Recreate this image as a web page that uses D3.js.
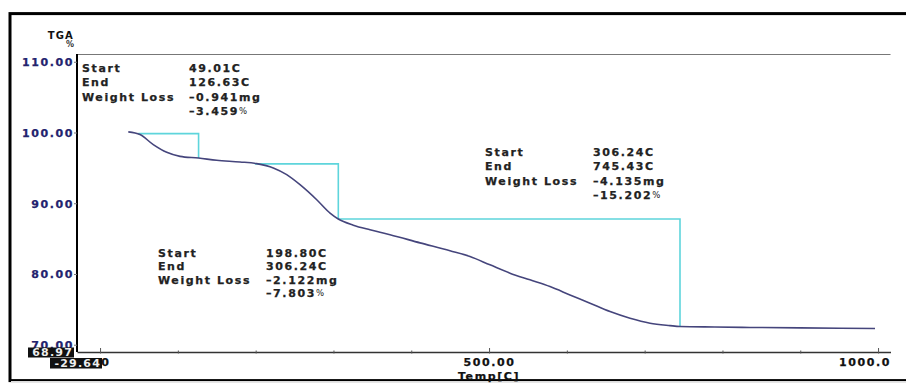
<!DOCTYPE html>
<html>
<head>
<meta charset="utf-8">
<script src="https://cdn.jsdelivr.net/npm/d3@7"></script>
<style>
  html, body { margin: 0; padding: 0; background: #fff; }
  svg { display: block; }
  text { font-family: "DejaVu Sans", sans-serif; font-weight: bold; }
</style>
</head>
<body>
<svg id="chart" width="906" height="383"></svg>
<script>
// TGA weight-loss curve (temperature in C, weight in %)
const temps = [36.3, 51.3, 68.4, 85.7, 102.8, 126.6, 149.9, 179.9, 201.3, 222.7, 239.9, 257.0,
  278.5, 295.6, 306.2, 325.5, 347.0, 359.8, 372.7, 411.2, 449.8, 475.5, 501.2, 526.9, 552.6,
  578.3, 604.0, 629.8, 655.5, 681.2, 706.9, 732.6, 745.4, 790.0, 835.4, 900.0, 996.1];
const weights = [100.09, 99.71, 98.29, 97.20, 96.63, 96.39, 96.07, 95.84, 95.60, 94.99, 94.04, 92.62,
  90.49, 88.60, 87.77, 86.90, 86.25, 85.90, 85.55, 84.40, 83.28, 82.47, 81.29, 80.12, 79.17,
  78.22, 77.04, 75.87, 74.68, 73.74, 73.04, 72.70, 72.57, 72.50, 72.44, 72.38, 72.30];

// Weight-loss steps
const stepStart = [49.01, 198.80, 306.24];
const stepEnd = [126.63, 306.24, 745.43];
const stepLevel = [99.85, 95.57, 87.77];
const stepLossMg = [0.941, 2.122, 4.135];
const stepLossPct = [3.459, 7.803, 15.202];

// Axis ranges and ticks
const xMin = -29.64, xMax = 1016;
const yMin = 68.97, yMax = 111.1;
const xTicks = [0, 100, 200, 300, 400, 500, 600, 700, 800, 900, 1000];
const xTickLabels = ["0.00", "", "", "", "", "500.00", "", "", "", "", "1000.0"];
const yTicks = [70, 80, 90, 100, 110];
const yTickLabels = ["70.00", "80.00", "90.00", "100.00", "110.00"];

const svg = d3.select("#chart");
const L = 77, R = 890.5, T = 54, B = 352;
const x = d3.scaleLinear().domain([xMin, xMax]).range([L, R]);
const y = d3.scaleLinear().domain([yMin, yMax]).range([B, T]);

// outer frame
svg.append("rect").attr("x", 10).attr("y", 13.6).attr("width", 1000).attr("height", 367)
  .attr("fill", "none").attr("stroke", "#000").attr("stroke-width", 3);
svg.append("line").attr("x1", 11).attr("x2", 906).attr("y1", 381.5).attr("y2", 381.5)
  .attr("stroke", "#ddd").attr("stroke-width", 1);

// top boundary of plot
svg.append("line").attr("x1", L).attr("x2", R).attr("y1", T + 0.5).attr("y2", T + 0.5)
  .attr("stroke", "#777").attr("stroke-width", 1.2);

// x axis
const xAxis = d3.axisBottom(x).tickValues(xTicks).tickSize(0).tickFormat("");
const gx = svg.append("g").attr("transform", `translate(0,${B})`).call(xAxis);
gx.select(".domain").attr("stroke", "#333").attr("stroke-width", 1.5);
gx.selectAll(".tick").append("line")
  .attr("y1", (d, i) => xTickLabels[i] ? -4 : -1.5)
  .attr("y2", 1.5)
  .attr("stroke", "#555").attr("stroke-width", 1);
gx.selectAll(".tick").append("text")
  .attr("y", 14)
  .attr("fill", "#111")
  .attr("font-size", 11)
  .attr("letter-spacing", 1.6)
  .attr("stroke", "#111").attr("stroke-width", 0.25)
  .attr("text-anchor", (d, i) => i === 0 ? "end" : (i === xTicks.length - 1 ? "end" : "middle"))
  .attr("dx", (d, i) => i === 0 ? 10 : (i === xTicks.length - 1 ? R - x(d) : 0))
  .text((d, i) => xTickLabels[i]);

svg.append("text").attr("x", x(500)).attr("y", 379.5).attr("text-anchor", "middle")
  .attr("font-size", 11).attr("letter-spacing", 1.6).attr("fill", "#111")
  .attr("stroke", "#111").attr("stroke-width", 0.25).text("Temp[C]");

// y axis
const yAxis = d3.axisLeft(y).tickValues(yTicks).tickSize(3).tickFormat((d, i) => yTickLabels[i]);
const gy = svg.append("g").attr("transform", `translate(${L},0)`).call(yAxis);
gy.select(".domain").attr("stroke", "#000").attr("stroke-width", 2).attr("d", `M0,${T}V${B}`);
gy.selectAll(".tick line").attr("stroke", "#777");
gy.selectAll(".tick text").attr("x", -3).attr("dy", "0.36em")
  .attr("fill", "#23236e").attr("font-size", 11).attr("letter-spacing", 1.6)
  .attr("stroke", "#23236e").attr("stroke-width", 0.25)
  .attr("font-family", "DejaVu Sans").attr("font-weight", "bold");

svg.append("text").attr("x", 74).attr("y", 39).attr("text-anchor", "end")
  .attr("font-size", 10).attr("letter-spacing", 1.2).attr("fill", "#111").text("TGA");
svg.append("text").attr("x", 74).attr("y", 47).attr("text-anchor", "end")
  .attr("font-size", 8).attr("font-weight", "normal").attr("fill", "#333").text("%");

// axis minimum markers
function minBox(cx, cy, w, h, label) {
  svg.append("rect").attr("x", cx).attr("y", cy).attr("width", w).attr("height", h).attr("fill", "#111");
  svg.append("text").attr("x", cx + w - 1).attr("y", cy + h - 1.5).attr("text-anchor", "end")
    .attr("font-size", 11).attr("letter-spacing", 1.2).attr("fill", "#eee").text(label);
}
minBox(28, 347.5, 46, 10, yMin.toFixed(2));
minBox(50, 358, 52, 10.5, xMin.toFixed(2));

// step lines
stepStart.forEach((s, i) => {
  const top = stepLevel[i], bottom = stepLevel[i] - stepLossPct[i];
  svg.append("path")
    .attr("d", `M${x(s)},${y(top)}H${x(stepEnd[i])}V${y(bottom)}`)
    .attr("fill", "none").attr("stroke", "#5ed5dc").attr("stroke-width", 1.6);
});

// TGA curve
const pts = temps.map((t, i) => [t, weights[i]]);
svg.append("path").datum(pts)
  .attr("d", d3.line().x(d => x(d[0])).y(d => y(d[1])).curve(d3.curveMonotoneX))
  .attr("fill", "none").attr("stroke", "#45457c").attr("stroke-width", 1.6);

// annotation blocks
const blockPos = [[82, 189, 72], [158, 266, 256.7], [485, 593, 155.7]];
const lineGap = [14.3, 13.5, 14.4];
const fmtLoss = v => "\u2013" + v.toFixed(3);
stepStart.forEach((s, i) => {
  const [lx, vx, by] = blockPos[i];
  const g = svg.append("g").attr("font-size", 11).attr("letter-spacing", 1.6).attr("fill", "#222")
    .attr("stroke", "#222").attr("stroke-width", 0.25);
  const rows = [["Start", s.toFixed(2) + "C"], ["End", stepEnd[i].toFixed(2) + "C"],
    ["Weight Loss", fmtLoss(stepLossMg[i]) + "mg"], ["", fmtLoss(stepLossPct[i])]];
  rows.forEach((r, k) => {
    const yy = by + k * lineGap[i];
    if (r[0]) g.append("text").attr("x", lx).attr("y", yy).text(r[0]);
    const t = g.append("text").attr("x", vx).attr("y", yy).text(r[1]);
    if (k === 3) t.append("tspan").attr("font-size", 8.5).attr("font-weight", "normal")
      .attr("stroke-width", 0).attr("dy", -1).text("%");
  });
});
</script>
</body>
</html>
